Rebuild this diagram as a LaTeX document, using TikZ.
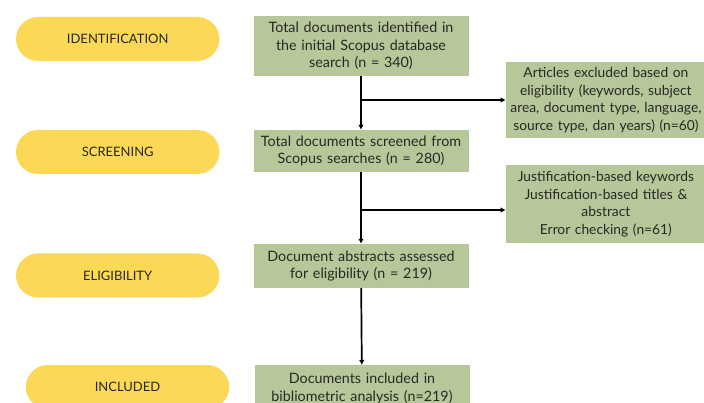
\documentclass[tikz,border=0pt]{standalone}
\usepackage{fontspec}
\setmainfont{Lato}
\usepackage{tikz}
\usetikzlibrary{positioning, arrows.meta, shapes.misc}
\definecolor{phaseYellow}{RGB}{251,217,86}
\definecolor{boxGreen}{RGB}{182,199,154}
\definecolor{inkDark}{RGB}{40,40,36}

\begin{document}
\begin{tikzpicture}[
  x=1pt, y=-1pt,
  phase/.style={rounded rectangle, fill=phaseYellow, minimum width=210pt,
    minimum height=44pt, font=\fontsize{13}{15}\selectfont, text=inkDark},
  stage/.style={rectangle, fill=boxGreen, minimum width=211pt, align=center,
    text width=215pt, inner xsep=0pt, font=\fontsize{14.3}{17.6}\selectfont, text=inkDark},
  note/.style={stage, minimum width=200pt, text width=200pt,
    font=\fontsize{13.8}{17.6}\selectfont},
  flow/.style={line width=1.7pt, -{Latex[length=5pt, width=5.5pt]}},
]
  \useasboundingbox (0,0) rectangle (704,403);
  \fill[white] (0,0) rectangle (704,403);

  % phases on the left
  \node[phase] (idn) at (117.7, 39)  {IDENTIFICATION};
  \node[phase] (scr) at (117.7, 152) {SCREENING};
  \node[phase] (elg) at (117.7, 275.5) {ELIGIBILITY};
  \node[phase] (inc) at (127.5, 387) {INCLUDED};

  % main column
  \node[stage, minimum height=60pt] (found) at (361, 46)
    {Total documents identified in\\ the initial Scopus database\\ search (n = 340)};
  \node[stage, minimum height=42pt] (screened) at (361, 151)
    {Total documents screened from\\ Scopus searches (n = 280)};
  \node[stage, minimum height=44pt] (assessed) at (361, 266)
    {Document abstracts assessed\\ for eligibility (n = 219)};
  \node[stage, minimum height=46pt, anchor=north] (kept) at (362, 365)
    {Documents included in\\ bibliometric analysis (n=219)};

  % exclusions on the right
  \node[note, minimum height=76pt, anchor=west] (dropA) at (505.7, 100)
    {Articles excluded based on\\ eligibility (keywords, subject\\ area, document type, language,\\ source type, dan years) (n=60)};
  \node[note, minimum height=78pt, anchor=west] (dropB) at (505.7, 204)
    {Justification-based keywords\\ Justification-based titles \&\\ abstract\\ Error checking (n=61)};

  \coordinate (splitA) at (found.south |- dropA.west);
  \coordinate (splitB) at (screened.south |- 0,210);

  \draw[flow] (found) -- (screened);
  \draw[flow] (splitA) -- (dropA.west);
  \draw[flow] (screened) -- (assessed);
  \draw[flow] (splitB) -- (splitB -| dropB.west);
  \draw[flow] (assessed) -- (kept);
\end{tikzpicture}
\end{document}
